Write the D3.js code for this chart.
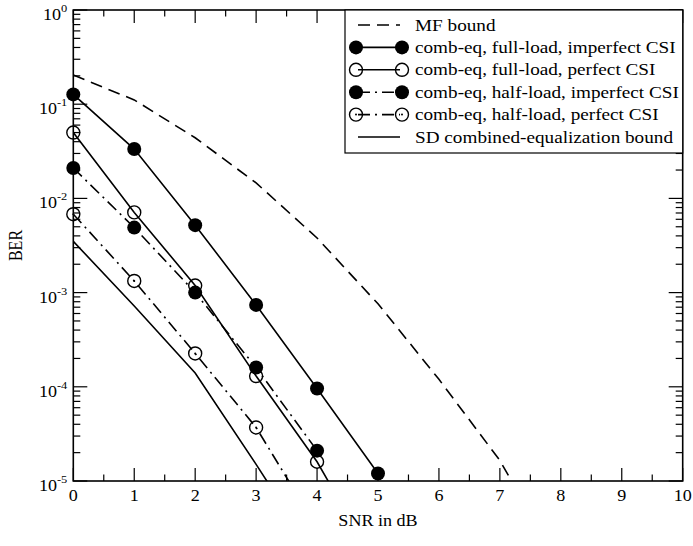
<!DOCTYPE html>
<html>
<head>
<meta charset="utf-8">
<script src="https://cdn.jsdelivr.net/npm/d3@7"></script>
<style>
  body { margin: 0; background: #fff; }
  svg text { font-family: "Liberation Serif", "DejaVu Serif", serif; }
</style>
</head>
<body>
<svg id="chart" width="693" height="546"></svg>
<script>
// SNR points (dB) and BER values
const snr = [0, 1, 2, 3, 4, 5, 6, 7, 8];
const mfBound = [0.204, 0.111, 0.044, 0.0146, 3.8e-3, 7.6e-4, 1.2e-4, 1.65e-5, 1.2e-6];
const fullImperfect = [0.127, 0.0334, 5.2e-3, 7.4e-4, 9.6e-5, 1.2e-5];
const fullPerfect = [0.05, 7.1e-3, 1.19e-3, 1.3e-4, 1.6e-5, 1.2e-6];
const halfImperfect = [0.021, 4.9e-3, 1.0e-3, 1.6e-4, 2.1e-5];
const halfPerfect = [6.8e-3, 1.33e-3, 2.26e-4, 3.7e-5, 3.2e-6];
const sdBound = [3.5e-3, 7.2e-4, 1.4e-4, 1.5e-5, 1.5e-6];

const xTicks = [0, 1, 2, 3, 4, 5, 6, 7, 8, 9, 10];
const yTicks = [1, 1e-1, 1e-2, 1e-3, 1e-4, 1e-5];

const series = [
  { label: 'MF bound', values: mfBound, dash: '12,7', marker: null },
  { label: 'comb-eq, full-load, imperfect CSI', values: fullImperfect, dash: null, marker: 'filled' },
  { label: 'comb-eq, full-load, perfect CSI', values: fullPerfect, dash: null, marker: 'open' },
  { label: 'comb-eq, half-load, imperfect CSI', values: halfImperfect, dash: '12,5,2,5', marker: 'filled' },
  { label: 'comb-eq, half-load, perfect CSI', values: halfPerfect, dash: '12,5,2,5', marker: 'dot' },
  { label: 'SD combined-equalization bound', values: sdBound, dash: null, marker: null }
];

const svg = d3.select('#chart');
const pLeft = 73.3, pRight = 682.7, pTop = 10, pBottom = 481;
const stretch = 1.13; // the original text is a bit wide

const x = d3.scaleLinear().domain([0, 10]).range([pLeft, pRight]);
const y = d3.scaleLog().domain([1e-5, 1]).range([pBottom, pTop]);

// text helper, widened horizontally like the source figure
function label(g, tx, ty, size, anchor) {
  return g.append('text')
    .attr('transform', `translate(${tx},${ty}) scale(${stretch},1)`)
    .attr('text-anchor', anchor)
    .attr('font-size', size);
}

svg.append('clipPath').attr('id', 'plot')
  .append('rect')
  .attr('x', pLeft).attr('y', pTop)
  .attr('width', pRight - pLeft).attr('height', pBottom - pTop);

const line = d3.line()
  .x(d => x(d[0]))
  .y(d => y(d[1]));

// curves
series.forEach(s => {
  const pts = s.values.map((v, i) => [snr[i], v]);
  svg.append('path')
    .attr('clip-path', 'url(#plot)')
    .attr('d', line(pts))
    .attr('fill', 'none')
    .attr('stroke', '#000')
    .attr('stroke-width', 1.6)
    .attr('stroke-dasharray', s.dash);
});

function drawMarker(g, cx, cy, type) {
  if (type === 'filled') {
    g.append('circle').attr('cx', cx).attr('cy', cy).attr('r', 7)
      .attr('fill', '#000');
  } else {
    g.append('circle').attr('cx', cx).attr('cy', cy).attr('r', 6.5)
      .attr('fill', 'none').attr('stroke', '#000').attr('stroke-width', 1.4);
    if (type === 'dot') {
      g.append('circle').attr('cx', cx).attr('cy', cy).attr('r', 1)
        .attr('fill', '#000');
    }
  }
}

// markers
const markers = svg.append('g');
series.filter(s => s.marker).forEach(s => {
  s.values.forEach((v, i) => {
    if (v < 1e-5) return;
    drawMarker(markers, x(snr[i]), y(v), s.marker);
  });
});

// axes
const frame = svg.append('g').attr('stroke', '#000');
frame.append('rect')
  .attr('x', pLeft).attr('y', pTop)
  .attr('width', pRight - pLeft).attr('height', pBottom - pTop)
  .attr('fill', 'none').attr('stroke-width', 1.6);

const xMinor = d3.range(0.5, 10, 1);
xTicks.forEach(t => {
  frame.append('line').attr('x1', x(t)).attr('x2', x(t))
    .attr('y1', pBottom).attr('y2', pBottom - 13).attr('stroke-width', 1.2);
  frame.append('line').attr('x1', x(t)).attr('x2', x(t))
    .attr('y1', pTop).attr('y2', pTop + 13).attr('stroke-width', 1.2);
});
xMinor.forEach(t => {
  frame.append('line').attr('x1', x(t)).attr('x2', x(t))
    .attr('y1', pBottom).attr('y2', pBottom - 6.5).attr('stroke-width', 1.2);
  frame.append('line').attr('x1', x(t)).attr('x2', x(t))
    .attr('y1', pTop).attr('y2', pTop + 6.5).attr('stroke-width', 1.2);
});

const yMinor = [];
for (let e = -5; e < 0; e++) {
  for (let m = 2; m <= 9; m++) yMinor.push(m * Math.pow(10, e));
}
yTicks.forEach(t => {
  frame.append('line').attr('x1', pLeft).attr('x2', pLeft + 14)
    .attr('y1', y(t)).attr('y2', y(t)).attr('stroke-width', 1.2);
  frame.append('line').attr('x1', pRight).attr('x2', pRight - 14)
    .attr('y1', y(t)).attr('y2', y(t)).attr('stroke-width', 1.2);
});
yMinor.forEach(t => {
  frame.append('line').attr('x1', pLeft).attr('x2', pLeft + 7)
    .attr('y1', y(t)).attr('y2', y(t)).attr('stroke-width', 1.2);
  frame.append('line').attr('x1', pRight).attr('x2', pRight - 7)
    .attr('y1', y(t)).attr('y2', y(t)).attr('stroke-width', 1.2);
});

// tick labels
const tl = svg.append('g');
xTicks.forEach(t => {
  label(tl, x(t), pBottom + 20, 16, 'middle').text(t);
});

yTicks.forEach(t => {
  const exp = Math.round(Math.log10(t));
  const txt = label(tl, pLeft - 6, y(t) + 10, 16, 'end');
  txt.append('tspan').text('10');
  txt.append('tspan').attr('dy', -8).attr('font-size', 11).text(exp === 0 ? '0' : exp);
});

// axis titles
label(svg, (pLeft + pRight) / 2, 526, 16, 'middle').text('SNR in dB');
svg.append('text')
  .attr('transform', 'translate(22,' + ((pTop + pBottom) / 2) + ') rotate(-90) scale(1,' + stretch + ')')
  .attr('text-anchor', 'middle').attr('font-size', 16)
  .text('BER');

// legend
const lg = svg.append('g');
lg.append('rect')
  .attr('x', 345).attr('y', pTop)
  .attr('width', pRight - 345).attr('height', 143)
  .attr('fill', '#fff').attr('stroke', '#000').attr('stroke-width', 1.2);
series.forEach((s, i) => {
  const ry = 25 + i * 22.4;
  lg.append('line')
    .attr('x1', 358).attr('x2', 400)
    .attr('y1', ry).attr('y2', ry)
    .attr('stroke', '#000').attr('stroke-width', 1.6)
    .attr('stroke-dasharray', s.dash);
  if (s.marker) {
    drawMarker(lg, 356, ry, s.marker);
    drawMarker(lg, 402, ry, s.marker);
  }
  label(lg, 415, ry + 5.5, 17, 'start').text(s.label);
});
</script>
</body>
</html>
